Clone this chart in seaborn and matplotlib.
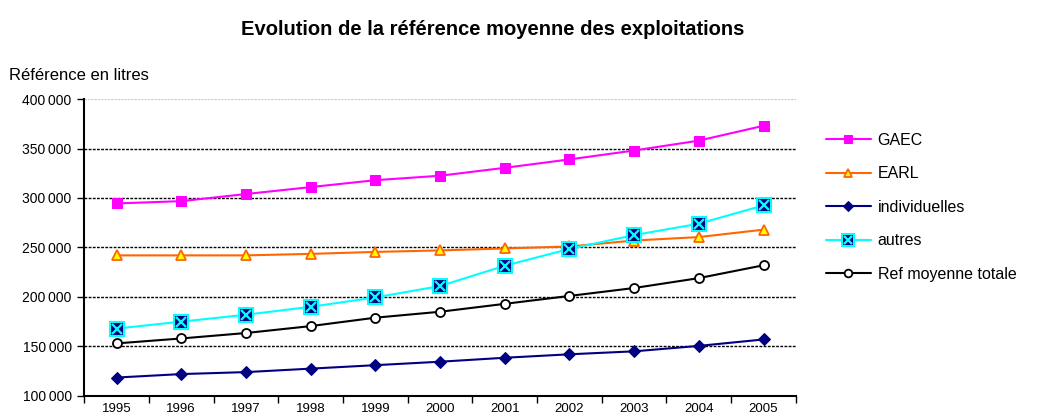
import numpy as np
import pandas as pd
import seaborn as sns
import matplotlib.pyplot as plt
from matplotlib.legend_handler import HandlerTuple
from matplotlib.ticker import FixedLocator

years = ['1995', '1996', '1997', '1998', '1999', '2000', '2001', '2002', '2003', '2004', '2005']
gaec = [294500, 296800, 304000, 311000, 318000, 322500, 330500, 339000, 348000, 358000, 373000]
earl = [242000, 242000, 242000, 243500, 245500, 247000, 249000, 251000, 257000, 260500, 268000]
individuelles = [118500, 122000, 124000, 127500, 131000, 134500, 138500, 142000, 145000, 150500, 157000]
autres = [168000, 175000, 182000, 190000, 199500, 211000, 231500, 248500, 262500, 274000, 292500]
ref_totale = [153000, 158000, 163500, 170500, 179000, 185000, 193000, 201000, 209000, 219000, 232000]
yticks = [100000, 150000, 200000, 250000, 300000, 350000, 400000]

sns.set_style('white')
plt.rcParams['font.family'] = ['Liberation Sans', 'DejaVu Sans']
plt.rcParams['text.color'] = 'black'
plt.rcParams['xtick.color'] = 'black'
plt.rcParams['ytick.color'] = 'black'

df = pd.DataFrame({'pos': np.arange(len(years)), 'GAEC': gaec, 'EARL': earl,
                   'individuelles': individuelles, 'autres': autres,
                   'Ref moyenne totale': ref_totale})

fig = plt.figure(figsize=(10.39, 4.18), dpi=100)
ax = fig.add_axes([0.081, 0.053, 0.685, 0.710])

for v in yticks[1:-1]:
    ax.axhline(v, color='black', lw=1.0, ls=(0, (2, 1)), zorder=0)
ax.axhline(yticks[-1], color='#c8c8c8', lw=0.8, ls=(0, (2, 1)), zorder=0)

h_gaec = sns.lineplot(data=df, x='pos', y='GAEC', ax=ax, color='#ff00ff', lw=1.5,
                      marker='s', markersize=6.5, markerfacecolor='#ff00ff',
                      markeredgecolor='#ff00ff', label='GAEC').lines[-1]
h_earl = sns.lineplot(data=df, x='pos', y='EARL', ax=ax, color='#ff6600', lw=1.5,
                      marker='^', markersize=7.5, markerfacecolor='#ffff00',
                      markeredgecolor='#ff6600', markeredgewidth=1.3, label='EARL').lines[-1]
h_ind = sns.lineplot(data=df, x='pos', y='individuelles', ax=ax, color='#000080', lw=1.5,
                     marker='D', markersize=6, markerfacecolor='#000080',
                     markeredgecolor='#000080', label='individuelles').lines[-1]
h_aut = sns.lineplot(data=df, x='pos', y='autres', ax=ax, color='#00ffff', lw=1.5,
                     marker='s', markersize=10, markerfacecolor='#000080',
                     markeredgecolor='#00ffff', markeredgewidth=1.5, label='autres').lines[-1]
h_autx, = ax.plot(df['pos'], df['autres'], ls='none', marker='x', markersize=6.5,
                  markeredgewidth=1.6, color='#00ffff', zorder=h_aut.get_zorder() + 0.1)
h_ref = sns.lineplot(data=df, x='pos', y='Ref moyenne totale', ax=ax, color='black', lw=1.5,
                     marker='o', markersize=6.5, markerfacecolor='white',
                     markeredgecolor='black', markeredgewidth=1.3,
                     label='Ref moyenne totale').lines[-1]

ax.set_xlim(-0.5, len(years) - 0.5)
ax.set_ylim(yticks[0], yticks[-1])
ax.set_xticks(np.arange(len(years)))
ax.set_xticklabels(years, fontsize=9.5)
ax.xaxis.set_minor_locator(FixedLocator(np.arange(len(years) + 1) - 0.5))
ax.tick_params(axis='x', which='major', length=0, pad=5)
ax.tick_params(axis='x', which='minor', length=5, width=1, direction='out', color='black', bottom=True)
ax.set_yticks(yticks)
ax.set_yticklabels([f'{v:,.0f}'.replace(',', '\u2009') for v in yticks], fontsize=10)
ax.tick_params(axis='y', length=5, width=1, direction='out', color='black', left=True, pad=4)
ax.set_xlabel('')
ax.set_ylabel('')
for s in ['top', 'right']:
    ax.spines[s].set_visible(False)
for s in ['left', 'bottom']:
    ax.spines[s].set_color('black')
    ax.spines[s].set_linewidth(1.5)

fig.text(0.474, 0.93, 'Evolution de la référence moyenne des exploitations',
         ha='center', va='center', fontsize=14.5, fontweight='bold')
fig.text(0.009, 0.82, 'Référence en litres', ha='left', va='center', fontsize=12)

ax.legend([h_gaec, h_earl, h_ind, (h_aut, h_autx), h_ref],
          ['GAEC', 'EARL', 'individuelles', 'autres', 'Ref moyenne totale'],
          handler_map={tuple: HandlerTuple(ndivide=1)},
          loc='upper left', bbox_to_anchor=(0.781, 0.716), bbox_transform=fig.transFigure,
          frameon=False, fontsize=11.5, handlelength=2.8, labelspacing=1.15,
          handletextpad=0.45, markerscale=0.85)

fig.savefig('out.png', dpi=100)
